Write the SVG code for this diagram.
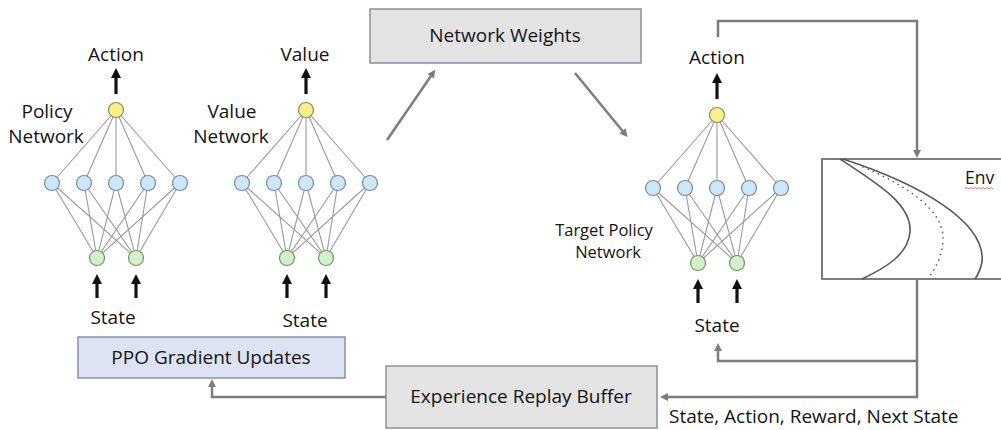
<svg xmlns="http://www.w3.org/2000/svg" width="1001" height="430" viewBox="0 0 1001 430">
<style>
text{font-family:"Open Sans","Liberation Sans",sans-serif;fill:#141414;}
.lbl{font-size:19px;text-anchor:middle;}
.sm{font-size:16.5px;text-anchor:middle;}
.edge{stroke:#9a9a9a;stroke-width:1.1;fill:none;}
.y{fill:#f7f08c;stroke:#8f8a55;stroke-width:1.2;}
.b{fill:#cfe6f6;stroke:#6f8ea6;stroke-width:1.2;}
.g{fill:#d4f0ca;stroke:#6c9a62;stroke-width:1.2;}
.barrow{stroke:#111;stroke-width:3.2;fill:none;marker-end:url(#bh);}
.conn{stroke:#7d7d7d;stroke-width:2.5;fill:none;}
.ca{marker-end:url(#gh);}
.box{fill:#e4e4e4;stroke:#8e8f9c;stroke-width:1.5;}
.pbox{fill:#dde3f2;stroke:#8a91a6;stroke-width:1.5;}
.env{stroke:#585858;stroke-width:1.6;fill:none;}
</style>
<defs>
<marker id="bh" viewBox="0 0 10 10" refX="5" refY="5" markerWidth="11" markerHeight="10" markerUnits="userSpaceOnUse" orient="auto"><path d="M0,0 L10,5 L0,10 z" fill="#111"/></marker>
<marker id="gh" viewBox="0 0 10 10" refX="5" refY="5" markerWidth="9" markerHeight="8" markerUnits="userSpaceOnUse" orient="auto"><path d="M0,0 L10,5 L0,10 z" fill="#7d7d7d"/></marker>
<g id="net">
<path class="edge" d="M0,0 L-64,73 M0,0 L-32,73 M0,0 L0,73 M0,0 L32,73 M0,0 L64,73
M-64,73 L-19,148 M-64,73 L20,148 M-32,73 L-19,148 M-32,73 L20,148 M0,73 L-19,148 M0,73 L20,148 M32,73 L-19,148 M32,73 L20,148 M64,73 L-19,148 M64,73 L20,148"/>
<circle class="y" cx="0" cy="0" r="7.5"/>
<circle class="b" cx="-64" cy="73" r="7.5"/>
<circle class="b" cx="-32" cy="73" r="7.5"/>
<circle class="b" cx="0" cy="73" r="7.5"/>
<circle class="b" cx="32" cy="73" r="7.5"/>
<circle class="b" cx="64" cy="73" r="7.5"/>
<circle class="g" cx="-19" cy="148" r="7.5"/>
<circle class="g" cx="20" cy="148" r="7.5"/>
<path class="barrow" d="M0,-16 L0,-37"/>
<path class="barrow" d="M-19,188 L-19,169"/>
<path class="barrow" d="M20,188 L20,169"/>
</g>
</defs>

<g id="policy-network">
<use href="#net" transform="translate(116,110)"/>
<text class="lbl" x="116" y="61">Action</text>
<text class="lbl" x="47" y="118">Policy</text>
<text class="lbl" x="46" y="143">Network</text>
<text class="lbl" x="113" y="324">State</text>
</g>

<g id="value-network">
<use href="#net" transform="translate(306,110)"/>
<text class="lbl" x="305" y="61">Value</text>
<text class="lbl" x="232" y="118">Value</text>
<text class="lbl" x="231" y="143">Network</text>
<text class="lbl" x="305" y="327">State</text>
</g>

<g id="target-policy-network">
<use href="#net" transform="translate(717,115)"/>
<text class="lbl" x="717" y="64">Action</text>
<text class="sm" x="604" y="236">Target Policy</text>
<text class="sm" x="608" y="258">Network</text>
<text class="lbl" x="717" y="332">State</text>
</g>

<g id="network-weights">
<rect class="box" x="370" y="9" width="271" height="54"/>
<text class="lbl" x="505" y="42">Network Weights</text>
</g>

<g id="ppo-gradient-updates">
<rect class="pbox" x="78" y="337" width="267" height="41"/>
<text class="lbl" x="211" y="364">PPO Gradient Updates</text>
</g>

<g id="experience-replay-buffer">
<rect class="box" x="386" y="366" width="271" height="62"/>
<text class="lbl" x="521" y="403">Experience Replay Buffer</text>
</g>

<g id="env">
<rect x="822" y="159" width="200" height="120" fill="#fff" stroke="#7d7d7d" stroke-width="2"/>
<path class="env" d="M840,159 C880,185 912,205 910,232 C908,255 885,268 862,279"/>
<path class="env" d="M843,159 C920,184 986,222 982,262 Q980,272 975,279"/>
<path class="env" d="M863,167 C905,185 945,210 943,240 C942,258 935,268 928,279" stroke-width="2" stroke-dasharray="0.1,5.5" stroke-linecap="round" stroke="#6a6a6a"/>
<text x="965" y="184" style="font-size:17.5px">Env</text>
<path d="M965,189 l2,-1.5 l2,1.5 l2,-1.5 l2,1.5 l2,-1.5 l2,1.5 l2,-1.5 l2,1.5 l2,-1.5 l2,1.5 l2,-1.5 l2,1.5 l2,-1.5 l2,1.5" fill="none" stroke="#e05050" stroke-width="0.8"/>
</g>

<g id="connectors">
<path class="conn ca" d="M387,140 L433,73"/>
<path class="conn ca" d="M575,73 L625,134"/>
<path class="conn ca" d="M718,37 L718,21 L917,21 L917,154"/>
<path class="conn ca" d="M917,279 L917,397 L664,397"/>
<path class="conn ca" d="M917,361 L718,361 L718,347"/>
<path class="conn ca" d="M386,397 L212,397 L212,383"/>
<text x="669" y="423" style="font-size:19px">State, Action, Reward, Next State</text>
</g>
</svg>
